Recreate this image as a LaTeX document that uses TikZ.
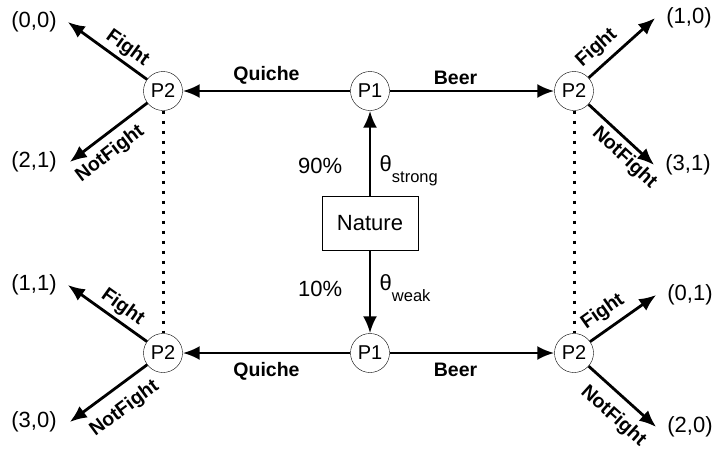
\documentclass[tikz,border=0pt]{standalone}
\usepackage{fontspec}
\setmainfont{Liberation Sans}
\usetikzlibrary{arrows.meta}

\begin{document}
\begin{tikzpicture}[x=1pt, y=-1pt,
font=\fontsize{22}{26}\selectfont,
player/.style={draw=black, circle, minimum size=39pt, inner sep=0pt, font=\fontsize{20}{22}\selectfont},
chance/.style={draw=black, minimum width=96pt, minimum height=54pt},
payoff/.style={inner sep=2pt},
move/.style={-{Latex[length=17pt,width=14pt]}, line width=2.8pt},
act/.style={font=\bfseries\fontsize{19.5}{22}\selectfont},
type/.style={anchor=base west, xshift=5pt},
info/.style={line width=3pt, dash pattern=on 3pt off 7pt},
]
\useasboundingbox (0,0) rectangle (715,450);

\node[chance] (nature) at (370,223) {Nature};
\node[player] (p1s) at (370,91) {P1};
\node[player] (p1w) at (370,353) {P1};
\node[player] (p2sq) at (163,91) {P2};
\node[player] (p2sb) at (574,91) {P2};
\node[player] (p2wq) at (163,353) {P2};
\node[player] (p2wb) at (574,353) {P2};

% payoffs
\node[payoff] (sqf) at (34,22) {(0,0)};
\node[payoff] (sqn) at (34,162) {(2,1)};
\node[payoff] (sbf) at (689,18) {(1,0)};
\node[payoff] (sbn) at (688,165) {(3,1)};
\node[payoff] (wqf) at (34,285) {(1,1)};
\node[payoff] (wqn) at (34,422) {(3,0)};
\node[payoff] (wbf) at (690,295) {(0,1)};
\node[payoff] (wbn) at (690,427) {(2,0)};

% nature
\draw[move] (nature) -- node[pos=0.35, left=23pt] {90\%}
  node[pos=0.286, type] {θ\raisebox{-11pt}{\fontsize{16.5}{18}\selectfont strong}} (p1s);
\draw[move] (nature) -- node[pos=0.46, left=23pt] {10\%}
  node[pos=0.48, type] {θ\raisebox{-11pt}{\fontsize{16.5}{18}\selectfont weak}} (p1w);

% sender
\draw[move] (p1s) -- node[act, above=2pt] {Quiche} (p2sq);
\draw[move] (p1s) -- node[act, above=2pt, pos=0.4] {Beer} (p2sb);
\draw[move] (p1w) -- node[act, below=5pt] {Quiche} (p2wq);
\draw[move] (p1w) -- node[act, below=5pt, pos=0.4] {Beer} (p2wb);

% receiver
\draw[move] (p2sq) -- node[act, sloped, above, pos=0.35] {Fight} ([xshift=9pt]sqf.east);
\draw[move] (p2sq) -- node[act, sloped, below=4pt, pos=0.62] {NotFight} ([xshift=11pt]sqn.east);
\draw[move] (p2sb) -- node[act, sloped, above=3pt, pos=0.29] {Fight} ([xshift=-9pt]sbf.west);
\draw[move] (p2sb) -- node[act, sloped, below=1pt, pos=0.7] {NotFight} ([xshift=-9pt]sbn.west);
\draw[move] (p2wq) -- node[act, sloped, above, pos=0.41] {Fight} ([xshift=9pt]wqf.east);
\draw[move] (p2wq) -- node[act, sloped, below=8pt, pos=0.46] {NotFight} ([xshift=11pt]wqn.east);
\draw[move] (p2wb) -- node[act, sloped, above=3pt, pos=0.34] {Fight} ([xshift=-9pt]wbf.west);
\draw[move] (p2wb) -- node[act, sloped, below=7pt, pos=0.57] {NotFight} ([xshift=-9pt]wbn.west);

% information sets
\draw[info] (p2sq) -- (p2wq);
\draw[info] (p2sb) -- (p2wb);

\end{tikzpicture}
\end{document}
